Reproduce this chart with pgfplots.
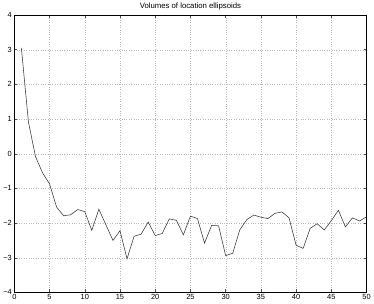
\documentclass[border=0pt]{standalone}
\usepackage{pgfplots}
\pgfplotsset{compat=1.18}
\usepackage{fontspec}
\setmainfont{Liberation Sans}
\begin{document}
\begin{tikzpicture}[x=1bp,y=1bp]
    \begin{axis}[
        scale only axis,
        width=353bp, height=278bp,
        xmin=0, xmax=50, ymin=-4, ymax=4,
        xtick={0,5,...,50},
        ytick={-4,-3,...,4},
        yticklabels={−4,−3,−2,−1,0,1,2,3,4},
        tick align=inside,
        tick pos=both,
        major tick length=3bp,
        xticklabel pos=bottom, yticklabel pos=left,
        /pgf/number format/assume math mode=true,
        tick label style={font=\fontsize{7.5}{8}\selectfont},
        xticklabel style={yshift=1.5bp},
        yticklabel style={xshift=1bp},
        title={Volumes of location ellipsoids},
        title style={font=\fontsize{7.8}{9}\selectfont, yshift=-5bp},
        grid=major,
        major grid style={dotted, gray!55, line width=0.3pt},
        axis line style={line width=0.5pt},
        every tick/.style={black!70, line width=0.4pt},
    ]
    % log volume per iteration
    \addplot[black!80, line width=0.55pt] coordinates {
        (1,3.05)(2,0.92)(3,-0.08)(4,-0.55)(5,-0.87)(6,-1.54)(7,-1.79)(8,-1.76)
        (9,-1.61)(10,-1.67)(11,-2.21)(12,-1.60)(13,-2.05)(14,-2.50)(15,-2.22)
        (16,-3.03)(17,-2.38)(18,-2.32)(19,-1.97)(20,-2.36)(21,-2.30)(22,-1.88)
        (23,-1.92)(24,-2.34)(25,-1.80)(26,-1.87)(27,-2.58)(28,-2.07)(29,-2.08)
        (30,-2.94)(31,-2.87)(32,-2.20)(33,-1.90)(34,-1.77)(35,-1.83)(36,-1.87)
        (37,-1.72)(38,-1.68)(39,-1.85)(40,-2.64)(41,-2.73)(42,-2.15)(43,-2.02)
        (44,-2.20)(45,-1.93)(46,-1.63)(47,-2.11)(48,-1.85)(49,-1.94)(50,-1.82)
    };
    \end{axis}
\end{tikzpicture}
\end{document}
